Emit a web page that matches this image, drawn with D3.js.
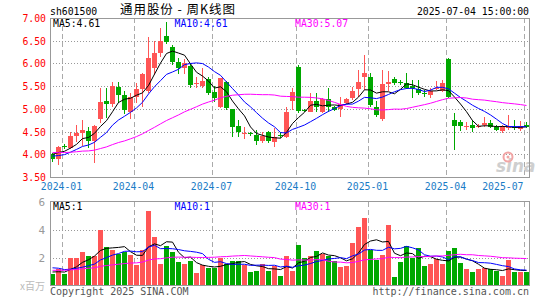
<!DOCTYPE html>
<html><head><meta charset="utf-8">
<script src="https://cdn.jsdelivr.net/npm/d3@7"></script>
<style>body{margin:0;background:#fff}svg{display:block}</style>
</head><body>
<svg id="c" width="545" height="300"></svg>
<script>
// ---- data (weekly, week-ending dates) ----
const weeks = ["2023-12-22","2023-12-29","2024-01-05","2024-01-12","2024-01-19","2024-01-26","2024-02-02","2024-02-08","2024-02-23","2024-03-01",
"2024-03-08","2024-03-15","2024-03-22","2024-03-29","2024-04-03","2024-04-12","2024-04-19","2024-04-26","2024-04-30","2024-05-10",
"2024-05-17","2024-05-24","2024-05-31","2024-06-07","2024-06-14","2024-06-21","2024-06-28","2024-07-05","2024-07-12","2024-07-19",
"2024-07-26","2024-08-02","2024-08-09","2024-08-16","2024-08-23","2024-08-30","2024-09-06","2024-09-13","2024-09-20","2024-09-27",
"2024-09-30","2024-10-11","2024-10-18","2024-10-25","2024-11-01","2024-11-08","2024-11-15","2024-11-22","2024-11-29","2024-12-06",
"2024-12-13","2024-12-20","2024-12-27","2025-01-03","2025-01-10","2025-01-17","2025-01-24","2025-01-27","2025-02-07","2025-02-14",
"2025-02-21","2025-02-28","2025-03-07","2025-03-14","2025-03-21","2025-03-28","2025-04-03","2025-04-11","2025-04-18","2025-04-25",
"2025-04-30","2025-05-09","2025-05-16","2025-05-23","2025-05-30","2025-06-06","2025-06-13","2025-06-20","2025-06-27","2025-07-04"];
const open = [4.00,3.90,4.18,4.14,4.40,4.47,4.52,4.29,4.78,5.18, 5.11,5.49,5.31,4.94,5.27,5.43,5.39,5.91,6.24,6.60,
6.37,6.04,5.91,5.94,5.54,5.50,5.65,5.38,5.04,5.60, 4.99,4.63,4.45,4.47,4.42,4.29,4.49,4.27,4.42,4.38,
5.18,5.93,4.98,4.93,5.18,4.93,5.21,5.03,4.99,5.13, 5.23,5.43,5.71,5.71,5.04,4.78,5.54,5.65,5.59,5.56,
5.50,5.43,5.35,5.30,5.46,5.39,6.09,4.75,4.70,4.61, 4.64,4.60,4.65,4.69,4.61,4.51,4.59,4.61,4.55,4.64];
const high = [4.02,4.18,4.22,4.48,4.64,4.76,4.61,4.65,5.46,5.46, 5.60,5.60,5.40,5.36,5.57,5.80,6.59,6.50,6.79,6.92,
6.40,6.12,6.10,6.00,5.70,5.91,5.70,5.50,5.68,5.62, 5.00,4.75,4.60,4.50,4.53,4.48,4.51,4.57,4.49,5.03,
5.45,5.96,5.00,5.34,5.36,5.24,5.45,5.07,5.26,5.23, 5.48,5.85,6.18,5.78,5.17,5.85,5.84,5.70,5.63,5.78,
5.63,5.63,5.41,5.45,5.62,5.63,6.12,4.90,4.76,4.71, 4.76,4.66,4.82,4.75,4.64,4.64,4.86,4.76,4.73,4.70];
const low = [3.83,3.77,4.12,4.12,4.28,4.18,4.13,3.80,4.69,4.80, 5.05,5.13,4.89,4.78,5.12,5.05,5.35,5.75,6.15,6.42,
5.97,5.76,5.77,5.46,5.45,5.47,5.30,5.15,5.02,4.98, 4.38,4.38,4.33,4.40,4.20,4.24,4.25,4.15,4.35,4.36,
4.97,4.90,4.93,4.92,4.93,4.91,4.93,4.95,4.82,5.10, 5.20,5.26,5.41,5.04,4.82,4.74,5.40,5.52,5.52,5.44,
5.23,5.30,5.26,5.24,5.41,5.38,5.23,4.09,4.52,4.53, 4.49,4.58,4.60,4.58,4.51,4.46,4.53,4.53,4.51,4.58];
const close = [3.89,4.17,4.16,4.41,4.46,4.53,4.29,4.62,5.16,5.10, 5.51,5.31,4.98,5.27,5.43,5.77,6.12,6.23,6.49,6.48,
6.04,5.90,6.00,5.53,5.56,5.62,5.35,5.23,5.67,5.01, 4.60,4.49,4.46,4.45,4.29,4.40,4.30,4.38,4.40,4.93,
5.38,4.95,4.96,5.18,5.03,5.21,5.03,4.98,5.10,5.21, 5.40,5.60,5.79,5.08,4.86,5.55,5.60,5.57,5.57,5.46,
5.45,5.34,5.33,5.39,5.47,5.56,5.26,4.62,4.62,4.63, 4.58,4.63,4.68,4.61,4.54,4.60,4.61,4.59,4.62,4.61];
const volume = [0.83,1.19,0.83,2.00,2.00,2.43,2.12,2.14,4.00,2.76, 2.60,2.28,2.42,2.20,1.49,2.54,5.33,3.49,1.55,2.89,
2.42,1.70,1.54,1.77,0.92,1.52,1.29,1.29,2.01,1.56, 1.82,1.82,1.52,0.99,1.06,1.56,1.06,1.44,0.75,2.12,
1.05,2.90,2.00,2.12,2.48,2.31,2.14,1.79,1.35,1.40, 3.04,4.19,4.85,2.58,1.85,2.25,4.39,0.63,1.70,2.83,
2.01,2.68,1.40,1.55,1.94,1.60,2.48,2.70,1.63,1.20, 0.99,1.25,1.29,1.22,1.06,0.70,1.85,0.99,0.99,0.99];
// estimated history before the visible window (only feeds the moving averages)
const priorCloses = [4.18,4.12,4.20,4.15,4.10,4.16,4.11,4.10,4.02,3.98,3.95,3.92,3.90,3.94,3.96,3.93,
4.10,4.22,4.28,4.20,4.05,3.95,3.88,3.85,3.87,3.98,4.02,4.06,4.05];
const priorVolumes = [1.10,0.90,1.00,1.20,0.95,1.05,1.10,0.90,1.00,1.15,0.95,1.00,1.10,1.05,0.90,1.00,
1.10,1.05,1.00,1.10,1.50,1.80,1.70,1.40,1.60,1.10,0.95,1.05,1.07];
const priceTicks = [7.0,6.5,6.0,5.5,5.0,4.5,4.0,3.5];
const volTicks = [6,4,2];
const quarterMonths = [1,4,7,10];
const maPeriods = [5,10,30];
const maColors = ["#000000","#0000ff","#ff00ff"];

// ---- setup ----
const svg = d3.select("#c");
const L = 50, R = 530;
const x = d3.scaleBand().domain(d3.range(weeks.length)).range([L, R]).paddingInner(0).paddingOuter(0);
const y = d3.scaleLinear().domain([3.5, 7]).range([177, 18]);
const vy = d3.scaleLinear().domain([0, 6]).range([286, 202]);
const UP = "#ff5555", DN = "#00a800";
const mono = "DejaVu Sans Mono";
const CW = 5.9;

function txt(s, tx, ty, fill, anchor) {
  const t = svg.append("text").attr("x", tx).attr("y", ty).text(s)
    .attr("font-family", mono).attr("font-size", 11).attr("fill", fill)
    .attr("text-anchor", anchor || "start")
    .attr("textLength", s.length * CW).attr("lengthAdjust", "spacingAndGlyphs");
  return t;
}
function ma(series, prior, n) {
  const all = prior.concat(series);
  return series.map((_, i) => d3.mean(all.slice(prior.length + i - n + 1, prior.length + i + 1)));
}

const idx = d3.range(weeks.length);
const monthTicks = idx.filter(i => i > 0 && weeks[i].slice(5,7) !== weeks[i-1].slice(5,7) && quarterMonths.includes(+weeks[i].slice(5,7)));

// ---- grids ----
const g = svg.append("g").attr("shape-rendering", "crispEdges");
[[y(7), y(3.5)], [vy(6), vy(0)]].forEach(([t, b]) => {
  monthTicks.forEach(i => g.append("line").attr("x1", x(i) + 0.5).attr("x2", x(i) + 0.5)
    .attr("y1", t).attr("y2", b).attr("stroke", "#aaaaaa").attr("stroke-dasharray", "5,3"));
});
priceTicks.filter(p => p > 3.5 && p < 7).forEach(p => g.append("line").attr("x1", L).attr("x2", R - 1)
  .attr("y1", Math.round(y(p)) + 0.5).attr("y2", Math.round(y(p)) + 0.5)
  .attr("stroke", "#999999").attr("stroke-dasharray", "1,2"));
volTicks.filter(v => v < 6).forEach(v => g.append("line").attr("x1", L).attr("x2", R - 1)
  .attr("y1", Math.round(vy(v)) + 0.5).attr("y2", Math.round(vy(v)) + 0.5)
  .attr("stroke", "#999999").attr("stroke-dasharray", "1,2"));

// ---- watermark ----
svg.append("text").attr("x", 496).attr("y", 172).text("sina")
  .attr("font-family", "DejaVu Sans").attr("font-size", 17).attr("font-weight", "bold")
  .attr("font-style", "italic").attr("fill", "#cfcfcf");
svg.append("circle").attr("cx", 508).attr("cy", 157).attr("r", 4.5).attr("fill", "none")
  .attr("stroke", "#f2a5a5").attr("stroke-width", 2);
svg.append("circle").attr("cx", 508).attr("cy", 157).attr("r", 1.5).attr("fill", "#f2a5a5");

// ---- candles ----
const cg = svg.append("g").attr("shape-rendering", "crispEdges");
idx.forEach(i => {
  const col = close[i] >= open[i] ? UP : DN;
  const cx = x(i) + 2.5;
  cg.append("line").attr("x1", cx).attr("x2", cx).attr("y1", y(high[i])).attr("y2", y(low[i])).attr("stroke", col);
  const top = y(Math.max(open[i], close[i])), bot = y(Math.min(open[i], close[i]));
  cg.append("rect").attr("x", x(i)).attr("width", 5).attr("y", top).attr("height", Math.max(1, bot - top)).attr("fill", col);
  cg.append("rect").attr("x", x(i)).attr("width", 5).attr("y", vy(volume[i])).attr("height", vy(0) - vy(volume[i])).attr("fill", col);
});

// ---- moving averages ----
const priceMA = maPeriods.map(n => ma(close, priorCloses, n));
const volMA = maPeriods.map(n => ma(volume, priorVolumes, n));
priceMA.forEach((m, k) => svg.append("path").datum(m)
  .attr("d", d3.line().x((d, i) => x(i) + 2.5).y(d => y(d)))
  .attr("fill", "none").attr("stroke", maColors[k]).attr("stroke-width", 1));
volMA.forEach((m, k) => svg.append("path").datum(m)
  .attr("d", d3.line().x((d, i) => x(i) + 2.5).y(d => vy(d)))
  .attr("fill", "none").attr("stroke", maColors[k]).attr("stroke-width", 1));

// ---- frames ----
const fg = svg.append("g").attr("shape-rendering", "crispEdges").attr("fill", "none").attr("stroke", "#999999");
fg.append("rect").attr("x", L + 0.5).attr("y", y(7) + 0.5).attr("width", R - L - 1).attr("height", y(3.5) - y(7));
fg.append("rect").attr("x", L + 0.5).attr("y", vy(6) - 0.5).attr("width", R - L - 1).attr("height", vy(0) - vy(6));

// ---- axes ----
const ya = svg.append("g").attr("transform", "translate(47,0)")
  .call(d3.axisLeft(y).tickValues(priceTicks).tickFormat(d3.format(".2f")).tickSize(0).tickPadding(1));
ya.select(".domain").remove();
ya.selectAll("text").attr("font-family", mono).attr("font-size", 11).attr("fill", "#ff0000")
  .attr("textLength", 4 * CW).attr("lengthAdjust", "spacingAndGlyphs");

const va = svg.append("g").attr("transform", "translate(46,0)")
  .call(d3.axisLeft(vy).tickValues(volTicks).tickFormat(d3.format("d")).tickSize(0).tickPadding(1));
va.select(".domain").remove();
va.selectAll("text").attr("font-family", mono).attr("font-size", 11).attr("fill", "#999999");

const xa = svg.append("g").attr("transform", `translate(-3.5,${y(3.5)})`)
  .call(d3.axisBottom(x).tickValues(monthTicks).tickFormat(i => weeks[i].slice(0, 7)).tickSize(0).tickPadding(5));
xa.select(".domain").remove();
xa.selectAll("text").attr("font-family", mono).attr("font-size", 11).attr("fill", "#1a7cc6")
  .attr("textLength", 7 * CW).attr("lengthAdjust", "spacingAndGlyphs")
  .each(function(i) {
    if (x(i) + 7 * CW / 2 > R) d3.select(this).attr("text-anchor", "end").attr("x", 0);
  });

// ---- texts ----
txt("sh601500", 50, 15, "#000");
svg.append("text").attr("x", 120).attr("y", 14).text("通用股份 - 周K线图")
  .attr("font-family", "Noto Sans CJK SC").attr("font-size", 12.5).attr("fill", "#000")
  .attr("textLength", 115).attr("lengthAdjust", "spacing");
txt("2025-07-04 15:00:00", 529, 15, "#000", "end");
const last = weeks.length - 1;
const labX = [53, 174.5, 295];
priceMA.forEach((m, k) => txt(`MA${maPeriods[k]}:${m[last].toFixed(2)}`, labX[k], 27, maColors[k]));
volMA.forEach((m, k) => txt(`MA${maPeriods[k]}:${Math.floor(m[last])}`, labX[k], 210, maColors[k]));
svg.append("text").attr("x", 45).attr("y", 290).attr("text-anchor", "end").text("x百万")
  .attr("font-family", "Noto Sans CJK SC").attr("font-size", 10).attr("fill", "#bbbbbb");
svg.append("text").attr("x", 50).attr("y", 295).text("Copyright 2025 SINA.COM")
  .attr("font-family", mono).attr("font-size", 10).attr("fill", "#555555");
svg.append("text").attr("x", 529).attr("y", 295).attr("text-anchor", "end").text("http://finance.sina.com.cn")
  .attr("font-family", mono).attr("font-size", 10).attr("fill", "#555555");
</script>
</body></html>
